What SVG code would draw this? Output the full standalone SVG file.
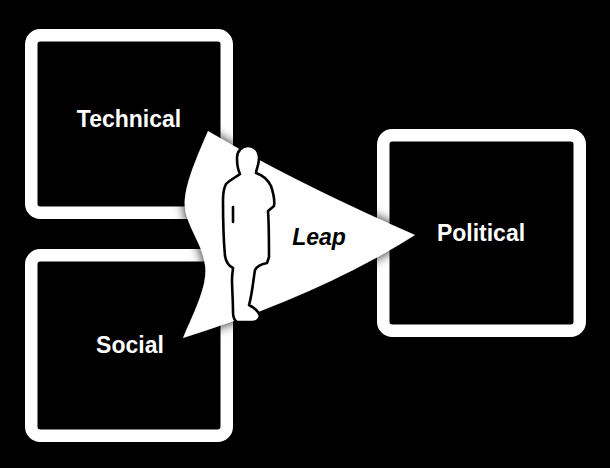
<svg xmlns="http://www.w3.org/2000/svg" width="610" height="468" viewBox="0 0 610 468">
  <style>
    .box { fill: #000; stroke: #fff; stroke-width: 12.5; }
    .lbl { font-family: "Liberation Sans", Arial, Helvetica, sans-serif; font-weight: bold; font-size: 23px; fill: #fff; text-anchor: middle; }
    .leap { font-family: "Liberation Sans", Arial, Helvetica, sans-serif; font-weight: bold; font-style: italic; font-size: 23px; fill: #000; text-anchor: middle; }
    .person { fill: #fff; stroke: #000; stroke-width: 2.6; stroke-linejoin: round; stroke-linecap: round; }
  </style>
  <defs>
    <filter id="sh" x="-30%" y="-30%" width="160%" height="160%">
      <feDropShadow dx="0" dy="0" stdDeviation="6" flood-color="#000" flood-opacity="0.95"/>
    </filter>
  </defs>
  <rect x="0" y="0" width="610" height="468" fill="#000"/>

  <g id="technical">
    <rect class="box" x="31.25" y="35.25" width="195.5" height="177.5" rx="9"/>
    <text class="lbl" x="129" y="126.5">Technical</text>
  </g>
  <g id="social">
    <rect class="box" x="31.25" y="255.25" width="195.5" height="180.5" rx="9"/>
    <text class="lbl" x="130" y="353">Social</text>
  </g>
  <g id="political">
    <rect class="box" x="383.25" y="135.25" width="196.5" height="195.5" rx="9"/>
    <text class="lbl" x="481" y="240.5">Political</text>
  </g>

  <g id="connectors">
    <path id="leap-arrow" filter="url(#sh)" fill="#fff"
      d="M208,131 Q290,180 415,235 Q320,295 183,338 C195,310 208,285 205,265 C202,240 182,222 185,198 C187,178 200,150 208,131 Z"/>
    <text class="leap" x="319" y="245">Leap</text>
  </g>

  <g id="figure">
    <path class="person" d="M248,146
      C254,146 259,150 259,158
      C259,165 256,170 256,173
      C262,175 268,180 271,186
      C273,192 275,200 274,206
      L268,211
      C269,225 269,245 269,257
      L267,263
      C262,264 257,266 255,270
      C253,282 252,295 249,305
      C253,307 258,310 260,316
      C259,320 256,322 252,322
      L237,322
      C234,320 233,316 233,312
      C233,300 232,288 232,280
      C232,274 233,270 233,268
      C229,266 226,262 225,256
      C224,245 223,215 223,200
      C223,192 224,188 226,184
      C230,180 236,177 240,174
      C238,170 237,165 237,158
      C237,151 242,146 248,146 Z"/>
    <path d="M233,207 L233,222" stroke="#000" stroke-width="2.6" stroke-linecap="round" fill="none"/>
  </g>
</svg>
